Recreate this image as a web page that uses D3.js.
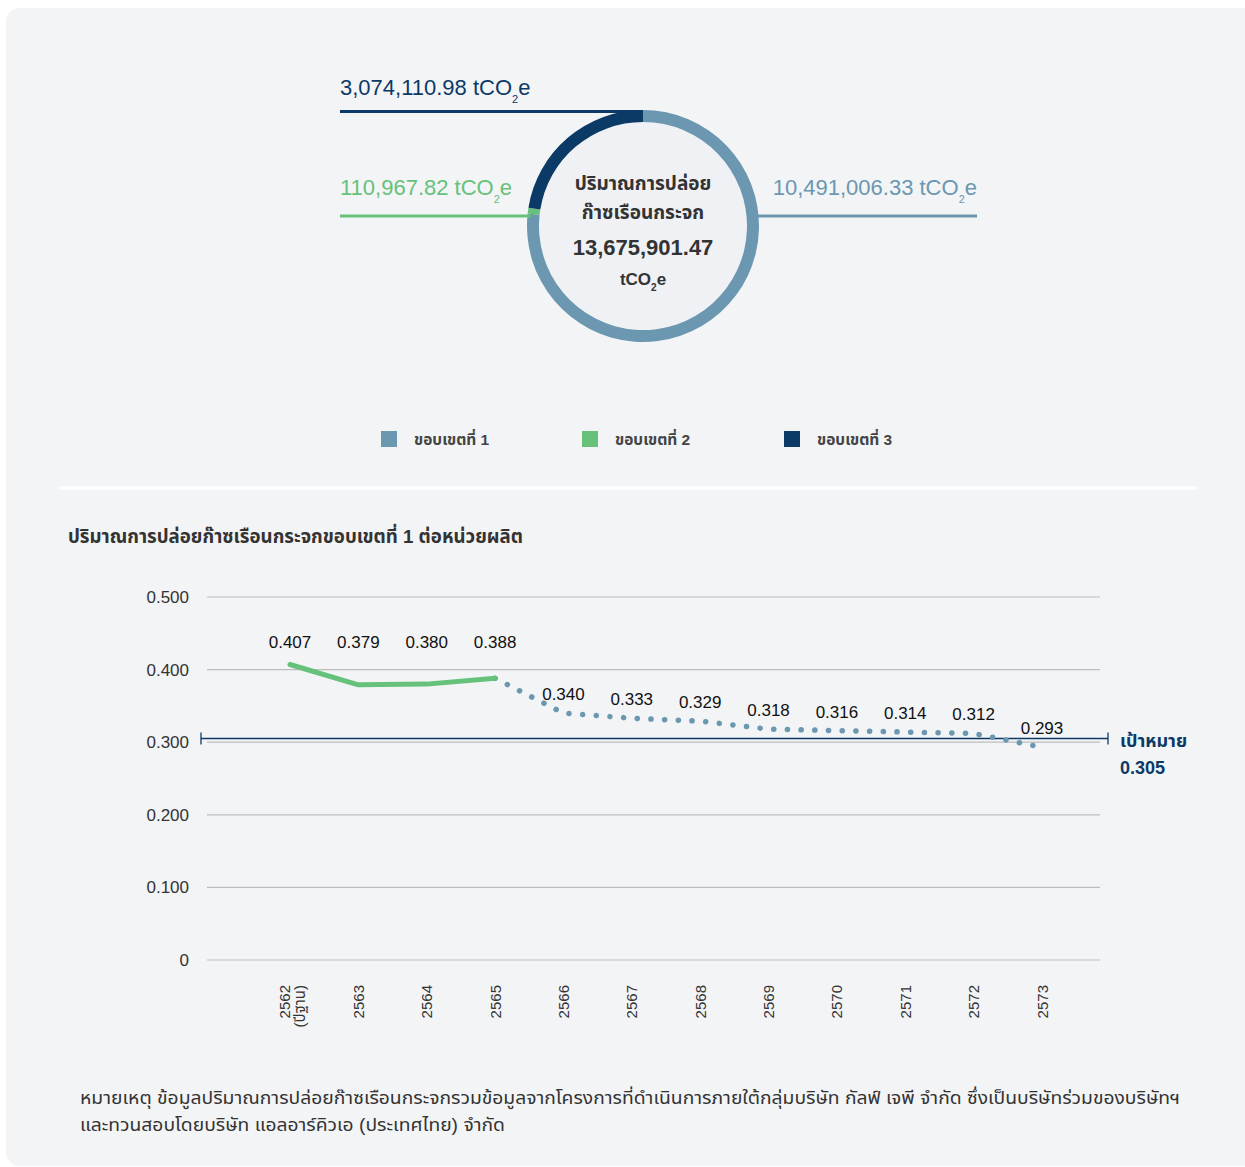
<!DOCTYPE html>
<html>
<head>
<meta charset="utf-8">
<script src="https://cdn.jsdelivr.net/npm/d3@7"></script>
<style>
  html,body{margin:0;padding:0;background:#ffffff;}
  svg{display:block;}
  text{font-family:"Liberation Sans","Noto Sans Thai","Noto Sans",Arial,sans-serif;}
</style>
</head>
<body>
<svg id="chart" width="1245" height="1167"></svg>
<script>
// ---------- DATA ----------
const scopeNames = ["ขอบเขตที่ 1", "ขอบเขตที่ 2", "ขอบเขตที่ 3"];
const scopeValues = [10491006.33, 110967.82, 3074110.98];
const scopeLabels = ["10,491,006.33", "110,967.82", "3,074,110.98"];
const totalLabel = "13,675,901.47";
const centerTitle = ["ปริมาณการปล่อย", "ก๊าซเรือนกระจก"];

const years = ["2562","2563","2564","2565","2566","2567","2568","2569","2570","2571","2572","2573"];
const yearNotes = ["(ปีฐาน)","","","","","","","","","","",""];
const intensity = [0.407,0.379,0.380,0.388,0.340,0.333,0.329,0.318,0.316,0.314,0.312,0.293];
const actualCount = 4; // 2562-2565 actual, rest projected
const yTicks = [0,0.1,0.2,0.3,0.4,0.5];
const targetValue = 0.305;
const targetLabel = ["เป้าหมาย", "0.305"];
const chartTitle = "ปริมาณการปล่อยก๊าซเรือนกระจกขอบเขตที่ 1 ต่อหน่วยผลิต";
const footnote = [
  "หมายเหตุ ข้อมูลปริมาณการปล่อยก๊าซเรือนกระจกรวมข้อมูลจากโครงการที่ดำเนินการภายใต้กลุ่มบริษัท กัลฟ์ เจพี จำกัด ซึ่งเป็นบริษัทร่วมของบริษัทฯ",
  "และทวนสอบโดยบริษัท แอลอาร์คิวเอ (ประเทศไทย) จำกัด"
];

// ---------- STYLE ----------
const colors = ["#6b97b0", "#66c17a", "#0b3a66"];
const textDark = "#333333";
const navy = "#0b3a66";

const svg = d3.select("#chart");

// card background
svg.append("rect").attr("x", 6).attr("y", 8).attr("width", 1260).attr("height", 1158)
  .attr("rx", 14).attr("fill", "#f3f4f6");

// ---------- DONUT ----------
const cx = 643, cy = 226, rOuter = 116, rInner = 104;
const pie = d3.pie().sort(null).value(d => d)(scopeValues);
const arc = d3.arc().innerRadius(rInner).outerRadius(rOuter);
const gD = svg.append("g").attr("transform", `translate(${cx},${cy})`);
gD.append("circle").attr("r", rInner).attr("fill", "#eff1f5");
gD.selectAll("path.slice").data(pie).join("path")
  .attr("class", "slice").attr("d", arc).attr("fill", (d, i) => colors[i]);

// leader lines + labels
function co2Label(sel, x, y, value, color, anchor) {
  const t = sel.append("text").attr("x", x).attr("y", y).attr("fill", color)
    .attr("font-size", 22).attr("text-anchor", anchor);
  t.append("tspan").text(value + " tCO");
  t.append("tspan").attr("dy", 8).attr("font-size", 11).text("2");
  t.append("tspan").attr("dy", -8).text("e");
}
// scope 3 (navy) - top left
svg.append("line").attr("x1", 340).attr("x2", cx).attr("y1", cy - rOuter + 1.5).attr("y2", cy - rOuter + 1.5)
  .attr("stroke", colors[2]).attr("stroke-width", 3);
co2Label(svg, 340, 95, scopeLabels[2], colors[2], "start");
// scope 2 (green) - left
svg.append("line").attr("x1", 340).attr("x2", cx - rOuter + 4).attr("y1", 216).attr("y2", 216)
  .attr("stroke", colors[1]).attr("stroke-width", 3);
co2Label(svg, 340, 195, scopeLabels[1], colors[1], "start");
// scope 1 - right
svg.append("line").attr("x1", cx + rOuter - 2).attr("x2", 977).attr("y1", 216).attr("y2", 216)
  .attr("stroke", colors[0]).attr("stroke-width", 3);
co2Label(svg, 977, 195, scopeLabels[0], colors[0], "end");

// center text
gD.selectAll("text.ct").data(centerTitle).join("text").attr("class", "ct")
  .attr("x", 0).attr("y", (d, i) => -36 + i * 29).attr("text-anchor", "middle")
  .attr("font-size", 19).attr("font-weight", "bold").attr("fill", textDark).text(d => d);
gD.append("text").attr("x", 0).attr("y", 29).attr("text-anchor", "middle")
  .attr("font-size", 22).attr("font-weight", "bold").attr("fill", textDark).text(totalLabel);
const tt = gD.append("text").attr("x", 0).attr("y", 59).attr("text-anchor", "middle")
  .attr("font-size", 17).attr("font-weight", "bold").attr("fill", textDark);
tt.append("tspan").text("tCO");
tt.append("tspan").attr("dy", 6).attr("font-size", 10).text("2");
tt.append("tspan").attr("dy", -6).text("e");

// legend
const legendX = [381, 582, 784];
const lg = svg.selectAll("g.lg").data(scopeNames).join("g").attr("class", "lg")
  .attr("transform", (d, i) => `translate(${legendX[i]},431)`);
lg.append("rect").attr("width", 16).attr("height", 16).attr("fill", (d, i) => colors[i]);
lg.append("text").attr("x", 33).attr("y", 14).attr("font-size", 15.5).attr("font-weight", "bold")
  .attr("fill", "#444").text(d => d);

// separator
svg.append("line").attr("x1", 60).attr("x2", 1197).attr("y1", 488).attr("y2", 488)
  .attr("stroke", "#ffffff").attr("stroke-width", 3);

// ---------- LINE CHART ----------
svg.append("text").attr("x", 68).attr("y", 543).attr("font-size", 18.5).attr("font-weight", "bold")
  .attr("fill", textDark).text(chartTitle)
  .attr("textLength", 455).attr("lengthAdjust", "spacingAndGlyphs");

const x = d3.scalePoint().domain(years).range([290, 1042]);
const y = d3.scaleLinear().domain([0, 0.5]).range([960, 597]);

// grid
const gridG = svg.append("g");
gridG.selectAll("line").data(yTicks).join("line")
  .attr("x1", 207).attr("x2", 1100).attr("y1", d => y(d)).attr("y2", d => y(d))
  .attr("stroke", "#bdbdbd").attr("stroke-width", 1.2);

// y axis labels via d3 axis
const yAxis = d3.axisLeft(y).tickValues(yTicks).tickSize(0).tickPadding(0)
  .tickFormat(d => d === 0 ? "0" : d3.format(".3f")(d));
const yg = svg.append("g").attr("transform", "translate(189,0)").call(yAxis);
yg.select(".domain").remove();
yg.selectAll("text").attr("font-size", 17).attr("fill", textDark)
  .attr("font-family", "'Liberation Sans', Arial, sans-serif");

// target line
const ty = y(targetValue);
svg.append("line").attr("x1", 201).attr("x2", 1108).attr("y1", ty).attr("y2", ty)
  .attr("stroke", navy).attr("stroke-width", 1.5);
[201, 1108].forEach(xx => {
  svg.append("line").attr("x1", xx).attr("x2", xx).attr("y1", ty - 6).attr("y2", ty + 6)
    .attr("stroke", navy).attr("stroke-width", 1.3);
});
svg.selectAll("text.tl").data(targetLabel).join("text").attr("class", "tl")
  .attr("x", 1120).attr("y", (d, i) => ty + 8 + i * 27).attr("font-size", 18)
  .attr("font-weight", "bold").attr("fill", navy).text(d => d);

// x axis labels
const xAxis = d3.axisBottom(x).tickSize(0).tickFormat("");
const xg = svg.append("g").attr("transform", "translate(0,985)").call(xAxis);
xg.select(".domain").remove();
xg.selectAll(".tick").each(function(d, i) {
  const t = d3.select(this).append("text")
    .attr("transform", "rotate(-90)").attr("text-anchor", "end")
    .attr("font-size", 15).attr("fill", textDark)
    .attr("font-family", "'Liberation Sans', 'Noto Sans Thai', Arial, sans-serif");
  if (yearNotes[i]) {
    t.append("tspan").attr("x", 0).attr("y", -1).text(years[i]);
    t.append("tspan").attr("x", 0).attr("y", 14).text(yearNotes[i]);
  } else {
    t.append("tspan").attr("x", 0).attr("y", 5).text(years[i]);
  }
});

// lines
const pts = years.map((yr, i) => ({yr, v: intensity[i], i}));
const line = d3.line().x(d => x(d.yr)).y(d => y(d.v));
svg.append("path").datum(pts.slice(actualCount - 1))
  .attr("d", line).attr("fill", "none").attr("stroke", colors[0])
  .attr("stroke-width", 5.5).attr("stroke-linecap", "round").attr("stroke-dasharray", "0.1 13.6");
svg.append("path").datum(pts.slice(0, actualCount))
  .attr("d", line).attr("fill", "none").attr("stroke", colors[1])
  .attr("stroke-width", 5).attr("stroke-linecap", "round").attr("stroke-linejoin", "round");

// value labels
const topActual = y(d3.max(intensity.slice(0, actualCount)));
svg.selectAll("text.vl").data(pts).join("text").attr("class", "vl")
  .attr("x", d => x(d.yr))
  .attr("y", d => d.i < actualCount ? topActual - 17 : y(d.v) - 13)
  .attr("text-anchor", "middle").attr("font-size", 17).attr("fill", "#111")
  .text(d => d3.format(".3f")(d.v));

// footnote (stretched to match the condensed original width)
const fn = svg.selectAll("text.fn").data(footnote).join("text").attr("class", "fn")
  .attr("x", 80).attr("y", (d, i) => 1104 + i * 27).attr("font-size", 17.5)
  .attr("fill", textDark).text(d => d);
const natural = fn.nodes().map(n => n.getComputedTextLength());
const k = 1100 / natural[0];
fn.attr("textLength", (d, i) => natural[i] * k).attr("lengthAdjust", "spacingAndGlyphs");
</script>
</body>
</html>
